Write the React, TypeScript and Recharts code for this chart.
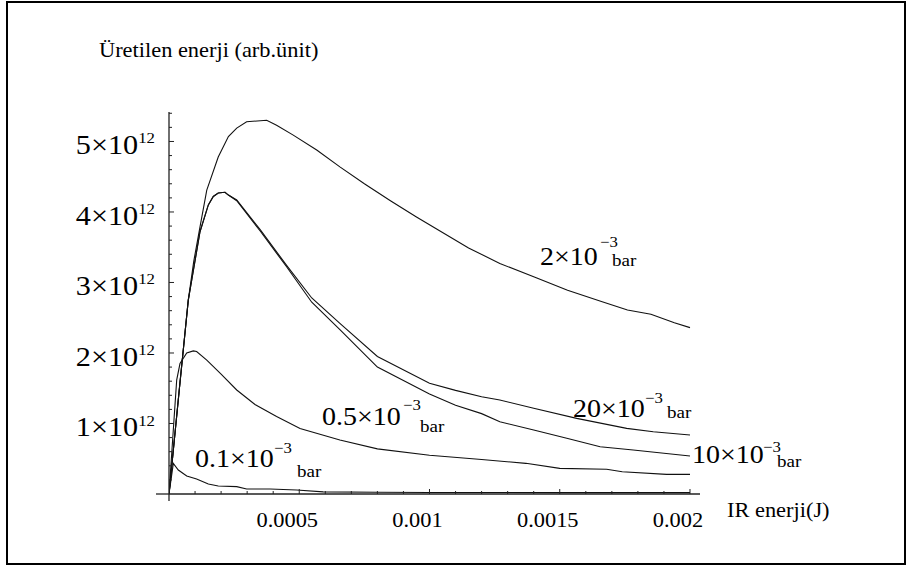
import React from "react";
import { LineChart, Line, XAxis, YAxis, ReferenceLine } from "recharts";

const FONT = "'Liberation Serif', 'Times New Roman', Times, serif";
const SX = 1.12;
const TS = { fontFamily: FONT };

// x: IR energy (J), y: produced energy in units of 1e12
const p2x = [0, 0.00004, 0.000074, 0.000095, 0.000119, 0.000145, 0.000189, 0.000228, 0.00026, 0.000298, 0.000375, 0.000413, 0.000477, 0.000567, 0.000656, 0.00075, 0.00085, 0.00095, 0.00105, 0.00115, 0.00127, 0.0014, 0.00153, 0.00166, 0.00176, 0.00185, 0.00194, 0.002];
const p2y = [0, 1.5, 2.75, 3.3, 3.79, 4.31, 4.78, 5.07, 5.19, 5.28, 5.3, 5.23, 5.09, 4.88, 4.64, 4.4, 4.16, 3.93, 3.71, 3.49, 3.27, 3.08, 2.89, 2.73, 2.61, 2.55, 2.43, 2.36];

const p20x = [0, 0.00004, 0.000074, 0.000119, 0.000151, 0.00017, 0.000189, 0.000215, 0.000228, 0.00026, 0.00035, 0.00045, 0.000548, 0.000656, 0.0008, 0.001, 0.0011, 0.0012, 0.00127, 0.0014, 0.001565, 0.001757, 0.001859, 0.002];
const p20y = [0, 1.5, 2.75, 3.72, 4.1, 4.22, 4.27, 4.28, 4.24, 4.17, 3.75, 3.25, 2.78, 2.42, 1.95, 1.57, 1.47, 1.38, 1.333, 1.215, 1.073, 0.931, 0.883, 0.837];

const p10x = [0, 0.00004, 0.000074, 0.000119, 0.000151, 0.00017, 0.000189, 0.000215, 0.000228, 0.00026, 0.00035, 0.00045, 0.000548, 0.000656, 0.0008, 0.001, 0.0011, 0.0012, 0.00127, 0.0014, 0.001527, 0.001655, 0.001782, 0.002];
const p10y = [0, 1.5, 2.75, 3.72, 4.1, 4.22, 4.27, 4.28, 4.24, 4.16, 3.73, 3.23, 2.72, 2.33, 1.8, 1.42, 1.26, 1.14, 1.025, 0.908, 0.79, 0.671, 0.624, 0.539];

const p05x = [0, 0.00002, 0.0000296, 0.0000422, 0.000068, 0.0000933, 0.000106, 0.000145, 0.0002, 0.00026, 0.00033, 0.000413, 0.000503, 0.000656, 0.0008, 0.001, 0.0012, 0.00137, 0.0015, 0.00168, 0.00174, 0.00191, 0.002];
const p05y = [0, 1.1, 1.62, 1.85, 2.0, 2.03, 2.02, 1.9, 1.7, 1.475, 1.27, 1.1, 0.93, 0.766, 0.64, 0.55, 0.49, 0.435, 0.364, 0.35, 0.316, 0.279, 0.279];

const p01x = [0, 0.0000166, 0.0000357, 0.000068, 0.000106, 0.000151, 0.000189, 0.00026, 0.000298, 0.000388, 0.00049, 0.000592, 0.0008, 0.001, 0.0015, 0.002];
const p01y = [0, 0.435, 0.34, 0.255, 0.213, 0.142, 0.113, 0.104, 0.07, 0.07, 0.057, 0.03, 0.025, 0.022, 0.02, 0.02];

const xMajor = [0.0005, 0.001, 0.0015, 0.002];
const xMajorLabels = ["0.0005", "0.001", "0.0015", "0.002"];
const xTicks = [0.0001, 0.0002, 0.0003, 0.0004, 0.0005, 0.0006, 0.0007, 0.0008, 0.0009, 0.001, 0.0011, 0.0012, 0.0013, 0.0014, 0.0015, 0.0016, 0.0017, 0.0018, 0.0019, 0.002];
const yMajor = [1, 2, 3, 4, 5];
const yMajorMantissa = ["1", "2", "3", "4", "5"];
const yTicks = [0.2, 0.4, 0.6, 0.8, 1, 1.2, 1.4, 1.6, 1.8, 2, 2.2, 2.4, 2.6, 2.8, 3, 3.2, 3.4, 3.6, 3.8, 4, 4.2, 4.4, 4.6, 4.8, 5, 5.2, 5.4];

const X_MAX = 0.0020384;
const Y_MAX = 5.418;

const toRows = (xs: number[], ys: number[]) => xs.map((x, i) => ({ x, y: ys[i] }));
const d2 = toRows(p2x, p2y);
const d20 = toRows(p20x, p20y);
const d10 = toRows(p10x, p10y);
const d05 = toRows(p05x, p05y);
const d01 = toRows(p01x, p01y);

const near = (a: number, b: number) => Math.abs(a - b) < 1e-9;

function XTick(props: any) {
  const { x, y, payload } = props;
  const idx = xMajor.findIndex((m) => near(m, payload.value));
  const major = idx >= 0;
  return (
    <g>
      <line x1={x} x2={x} y1={y} y2={y - (major ? 5 : 3)} stroke="#222" strokeWidth={1} />
      {major && (
        <g transform={`translate(${x - 12},${y + 33}) scale(${SX},1)`}>
          <text x={0} y={0} textAnchor="middle" style={TS} fontSize={20} fill="#000">
            {xMajorLabels[idx]}
          </text>
        </g>
      )}
    </g>
  );
}

function YTick(props: any) {
  const { x, y, payload } = props;
  const idx = yMajor.findIndex((m) => near(m, payload.value));
  const major = idx >= 0;
  return (
    <g>
      <line x1={x} x2={x + (major ? 5 : 3)} y1={y} y2={y} stroke="#222" strokeWidth={1} />
      {major && (
        <g transform={`translate(${x - 14},${y + 13}) scale(${SX},1)`}>
          <text x={0} y={0} textAnchor="end" style={TS} fill="#000">
            <tspan fontSize={27}>{yMajorMantissa[idx] + "\u00d710"}</tspan>
            <tspan fontSize={15} dy={-11}>12</tspan>
          </text>
        </g>
      )}
    </g>
  );
}

function CurveLabel({ x, y, main, supX, supY, barX, barY }: any) {
  return (
    <g>
      <g transform={`translate(${x},${y}) scale(${SX},1)`}>
        <text x={0} y={0} style={TS} fontSize={25} fill="#000">{main}</text>
      </g>
      <g transform={`translate(${supX},${supY}) scale(${SX},1)`}>
        <text x={0} y={0} style={TS} fontSize={15} fill="#000">{"\u22123"}</text>
      </g>
      <g transform={`translate(${barX},${barY}) scale(${SX},1)`}>
        <text x={0} y={0} style={TS} fontSize={17} fill="#000">bar</text>
      </g>
    </g>
  );
}

export default function App() {
  return (
    <div style={{ position: "absolute", left: 0, top: 0, width: 907, height: 566, background: "#fff" }}>
      <div
        style={{
          position: "absolute",
          left: 6,
          top: 1,
          width: 900,
          height: 564,
          border: "2px solid #000",
          boxSizing: "border-box",
        }}
      />
      <div style={{ position: "absolute", left: 0, top: 0 }}>
        <LineChart width={907} height={566} margin={{ top: 112, right: 207, bottom: 42, left: 109 }}>
          <XAxis
            type="number"
            dataKey="x"
            domain={[0, X_MAX]}
            allowDataOverflow
            ticks={xTicks}
            interval={0}
            height={30}
            tickSize={0}
            tickMargin={0}
            tickLine={false}
            axisLine={{ stroke: "#222", strokeWidth: 1.3 }}
            tick={<XTick />}
          />
          <YAxis
            type="number"
            dataKey="y"
            domain={[0, Y_MAX]}
            allowDataOverflow
            ticks={yTicks}
            interval={0}
            width={60}
            tickSize={0}
            tickMargin={0}
            tickLine={false}
            axisLine={{ stroke: "#222", strokeWidth: 1.3 }}
            tick={<YTick />}
          />
          <ReferenceLine
            segment={[{ x: -0.00005, y: 0 }, { x: 0, y: 0 }]}
            stroke="#222"
            strokeWidth={1.3}
            ifOverflow="visible"
          />
          <ReferenceLine
            segment={[{ x: 0, y: 0 }, { x: 0, y: -0.1 }]}
            stroke="#222"
            strokeWidth={1.3}
            ifOverflow="visible"
          />
          <Line data={d2} dataKey="y" type="linear" stroke="#111" strokeWidth={1.1} dot={false} isAnimationActive={false} />
          <Line data={d20} dataKey="y" type="linear" stroke="#111" strokeWidth={1.1} dot={false} isAnimationActive={false} />
          <Line data={d10} dataKey="y" type="linear" stroke="#111" strokeWidth={1.1} dot={false} isAnimationActive={false} />
          <Line data={d05} dataKey="y" type="linear" stroke="#111" strokeWidth={1.1} dot={false} isAnimationActive={false} />
          <Line data={d01} dataKey="y" type="linear" stroke="#111" strokeWidth={1.1} dot={false} isAnimationActive={false} />
        </LineChart>
      </div>
      <svg
        width={907}
        height={566}
        style={{ position: "absolute", left: 0, top: 0, pointerEvents: "none" }}
      >
        <g transform={`translate(99,57) scale(${SX},1)`}>
          <text x={0} y={0} style={TS} fontSize={20} fill="#000">Üretilen enerji (arb.ünit)</text>
        </g>
        <g transform={`translate(727,517) scale(${SX},1)`}>
          <text x={0} y={0} style={TS} fontSize={20} fill="#000">IR enerji(J)</text>
        </g>
        <CurveLabel x={540} y={265} main={"2\u00d710"} supX={600} supY={247} barX={612} barY={266} />
        <CurveLabel x={573} y={417} main={"20\u00d710"} supX={645} supY={403} barX={667} barY={418} />
        <CurveLabel x={692} y={463} main={"10\u00d710"} supX={763} supY={452} barX={777} barY={467} />
        <CurveLabel x={322} y={425} main={"0.5\u00d710"} supX={403} supY={410} barX={420} barY={432} />
        <CurveLabel x={195} y={467} main={"0.1\u00d710"} supX={274} supY={453} barX={297} barY={477} />
      </svg>
    </div>
  );
}
